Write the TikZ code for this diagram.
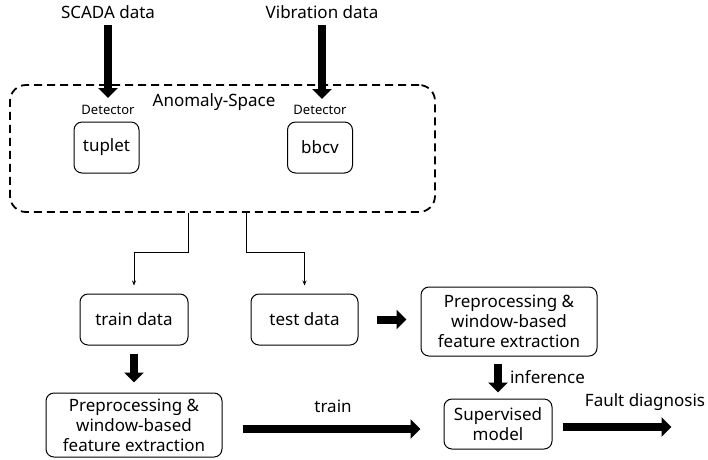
\documentclass[tikz,border=0pt]{standalone}
\usepackage{fontspec}
\setmainfont{Noto Sans}
\usetikzlibrary{arrows.meta,positioning}

\begin{document}
\begin{tikzpicture}[x=1pt,y=-1pt,
  every node/.style={font=\fontsize{17}{20}\selectfont, inner sep=0pt},
  box/.style={draw, line width=1pt, rounded corners=8pt, align=center},
  small/.style={font=\fontsize{13}{15}\selectfont},
  fat/.style={line width=8pt, -{Triangle[width=19pt,length=10pt]}},
  thin/.style={line width=0.9pt, -{Stealth[length=5pt,width=4pt]}}]
\useasboundingbox (0,0) rectangle (708,459);
\node (scada) at (108,12) {SCADA data};
\node (vib) at (322,12) {Vibration data};
\node[draw, line width=1.8pt, dash pattern=on 8pt off 5pt, rounded corners=16pt,
  minimum width=425pt, minimum height=127pt] (space) at (222.5,148.5) {};
\node (title) at (214,102) {Anomaly-Space};
\node[small] (det1) at (108,110) {Detector};
\node[small] (det2) at (320,110) {Detector};
\node[box, minimum width=65pt, minimum height=51pt] (tuplet) at (106.5,147.5) {tuplet};
\node[box, minimum width=65pt, minimum height=51pt] (bbcv) at (320,147.5) {bbcv};
\coordinate (in1) at (108,98);
\coordinate (in2) at (322,99);
\draw[fat] (scada.south) ++(0,6) -- (in1);
\draw[fat] (vib.south) ++(0,6) -- (in2);
\node[box, minimum width=108pt, minimum height=51pt] (train) at (134,319.5) {train data};
\node[box, minimum width=107pt, minimum height=51pt] (test) at (304.5,319.5) {test data};
\node[box, minimum width=176pt, minimum height=69pt] (prep1) at (509,321.5)
  {Preprocessing \&\\window-based\\feature extraction};
\node[box, minimum width=176pt, minimum height=64pt] (prep2) at (134,425)
  {Preprocessing \&\\window-based\\feature extraction};
\node[box, minimum width=108pt, minimum height=50pt] (sup) at (498,424)
  {Supervised\\model};
\coordinate (out) at ([xshift=119pt,yshift=-3pt]sup.east);
\draw[thin, shorten >=8pt] ([xshift=-34.5pt]space.south) -- ++(0,40) -| (train.north);
\draw[thin, shorten >=8pt] ([xshift=23.5pt]space.south) -- ++(0,40) -| (test.north);
\draw[fat, shorten <=18pt, shorten >=14pt] (test.east) -- (test.east -| prep1.west);
\draw[fat, shorten <=8pt, shorten >=10pt] (train.south) -- (prep2.north);
\draw[fat, shorten <=20pt, shorten >=23pt] ([yshift=-4pt]prep2.east) -- ([yshift=-4pt]prep2.east -| sup.west)
  node[midway, above=12pt] {train};
\draw[fat, shorten <=7pt, shorten >=6pt] (prep1.south -| sup.north) -- (sup.north)
  node[midway, right=8pt] {inference};
\draw[fat, shorten <=10pt] ([yshift=-3pt]sup.east) -- (out)
  node[midway, above=12pt, xshift=33pt] {Fault diagnosis};
\end{tikzpicture}
\end{document}
